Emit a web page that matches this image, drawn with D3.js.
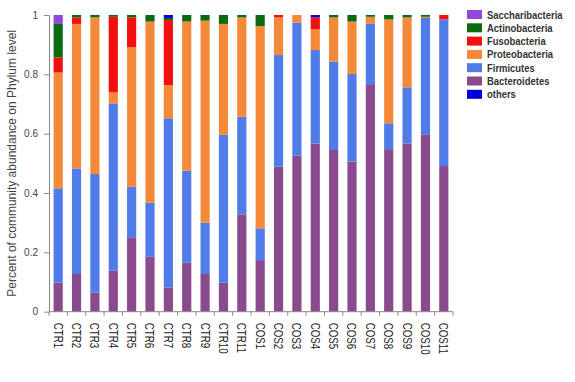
<!DOCTYPE html>
<html lang="en">
<head>
  <meta charset="UTF-8">
  <title>Phylum abundance</title>
  <style>
    body { margin: 0; background: #fff; }
    svg { display: block; }
    .axis path, .axis line { stroke: #888; }
    text { font-family: "Liberation Sans", Arial, sans-serif; }
  </style>
</head>
<body>
  <svg width="575" height="382"></svg>
  <script src="https://d3js.org/d3.v7.min.js"></script>
  <script>
    // samples along x
    const samples = ["CTR1","CTR2","CTR3","CTR4","CTR5","CTR6","CTR7","CTR8","CTR9","CTR10","CTR11",
                     "COS1","COS2","COS3","COS4","COS5","COS6","COS7","COS8","COS9","COS10","COS11"];

    // one array per phylum, stacked bottom-up in this order
    const bacteroidetes = [0.098,0.127,0.065,0.138,0.251,0.185,0.082,0.165,0.127,0.098,0.328,
                           0.174,0.489,0.526,0.567,0.545,0.506,0.767,0.548,0.567,0.598,0.491];
    const firmicutes    = [0.318,0.356,0.399,0.564,0.170,0.182,0.570,0.310,0.173,0.498,0.329,
                           0.107,0.376,0.448,0.315,0.298,0.295,0.203,0.087,0.189,0.392,0.494];
    const proteobacteria= [0.390,0.487,0.528,0.037,0.470,0.611,0.112,0.503,0.681,0.374,0.335,
                           0.682,0.127,0.026,0.070,0.149,0.177,0.024,0.350,0.236,0.004,0.000];
    const fusobacteria  = [0.051,0.022,0.000,0.255,0.101,0.000,0.219,0.000,0.000,0.000,0.000,
                           0.000,0.008,0.000,0.040,0.000,0.000,0.000,0.000,0.000,0.000,0.015];
    const actinobacteria= [0.113,0.008,0.008,0.006,0.008,0.022,0.007,0.022,0.019,0.030,0.008,
                           0.037,0.000,0.000,0.000,0.008,0.022,0.006,0.015,0.008,0.006,0.000];
    const saccharibacteria = [0.030,0,0,0,0,0,0,0,0,0,0, 0,0,0,0,0,0,0,0,0,0,0];
    const others        = [0,0,0,0,0,0,0.010,0,0,0,0, 0,0,0,0.008,0,0,0,0,0,0,0];

    const yTicks = [0, 0.2, 0.4, 0.6, 0.8, 1];
    const yTickLabels = ["0", "0.2", "0.4", "0.6", "0.8", "1"];

    const series = [
      {name: "Bacteroidetes", values: bacteroidetes, color: "#8a4a8e"},
      {name: "Firmicutes", values: firmicutes, color: "#4f7ce9"},
      {name: "Proteobacteria", values: proteobacteria, color: "#f5893a"},
      {name: "Fusobacteria", values: fusobacteria, color: "#f01010"},
      {name: "Actinobacteria", values: actinobacteria, color: "#0b6a12"},
      {name: "Saccharibacteria", values: saccharibacteria, color: "#9148dd"},
      {name: "others", values: others, color: "#0000dc"}
    ];
    const legendOrder = ["Saccharibacteria","Actinobacteria","Fusobacteria","Proteobacteria",
                         "Firmicutes","Bacteroidetes","others"];

    const svg = d3.select("svg");
    const plotLeft = 49, plotRight = 453, plotTop = 15, plotBottom = 311.7;

    const x = d3.scaleBand().domain(samples).range([plotLeft, plotRight])
      .paddingInner(0.5).paddingOuter(0.25);
    const y = d3.scaleLinear().domain([0, 1]).range([plotBottom, plotTop]);

    // build rows for d3.stack
    const rows = samples.map((s, i) => {
      const r = {sample: s};
      series.forEach(ser => { r[ser.name] = ser.values[i]; });
      return r;
    });
    const stacked = d3.stack().keys(series.map(s => s.name))(rows);
    const colorOf = {};
    series.forEach(s => { colorOf[s.name] = s.color; });

    svg.append("g").selectAll("g")
      .data(stacked)
      .join("g")
        .attr("fill", d => colorOf[d.key])
      .selectAll("rect")
      .data(d => d)
      .join("rect")
        .attr("x", d => x(d.data.sample))
        .attr("width", x.bandwidth())
        .attr("y", d => y(d[1]))
        .attr("height", d => y(d[0]) - y(d[1]));

    // y axis
    const yAxis = svg.append("g")
      .attr("class", "axis")
      .attr("transform", `translate(${plotLeft},0)`)
      .call(d3.axisLeft(y).tickValues(yTicks).tickSize(5).tickSizeOuter(0)
        .tickFormat((d, i) => yTickLabels[i]));
    yAxis.selectAll("text").attr("fill", "#444").attr("font-size", 10).attr("x", -11);

    // x axis: ticks sit on band edges
    const xg = svg.append("g").attr("class", "axis");
    xg.append("line")
      .attr("x1", plotLeft).attr("x2", plotRight)
      .attr("y1", plotBottom).attr("y2", plotBottom);
    const edges = d3.range(samples.length + 1).map(i => plotLeft + i * x.step());
    xg.selectAll("line.tick")
      .data(edges)
      .join("line")
        .attr("class", "tick")
        .attr("x1", d => d).attr("x2", d => d)
        .attr("y1", plotBottom).attr("y2", plotBottom + 4);

    svg.append("g").selectAll("text")
      .data(samples)
      .join("text")
        .attr("transform", d => `translate(${x(d) + x.bandwidth() / 2},${plotBottom + 11}) rotate(90) scale(0.75,1)`)
        .attr("dy", "0.35em")
        .attr("font-size", 13)
        .attr("fill", "#222")
        .text(d => d);

    // y title
    svg.append("text")
      .attr("transform", `translate(16,${(plotTop + plotBottom) / 2}) rotate(-90)`)
      .attr("text-anchor", "middle")
      .attr("font-size", 12)
      .attr("fill", "#444")
      .text("Percent of community abundance on Phylum level");

    // legend
    const legend = svg.append("g").attr("transform", "translate(467,10)");
    const item = legend.selectAll("g")
      .data(legendOrder)
      .join("g")
        .attr("transform", (d, i) => `translate(0,${i * 13.3})`);
    item.append("rect")
      .attr("width", 15).attr("height", 9)
      .attr("fill", d => colorOf[d]);
    item.append("text")
      .attr("transform", "translate(20,8.5) scale(0.9,1)")
      .attr("font-size", 10.5)
      .attr("font-weight", "bold")
      .attr("fill", "#333")
      .text(d => d);
  </script>
</body>
</html>
